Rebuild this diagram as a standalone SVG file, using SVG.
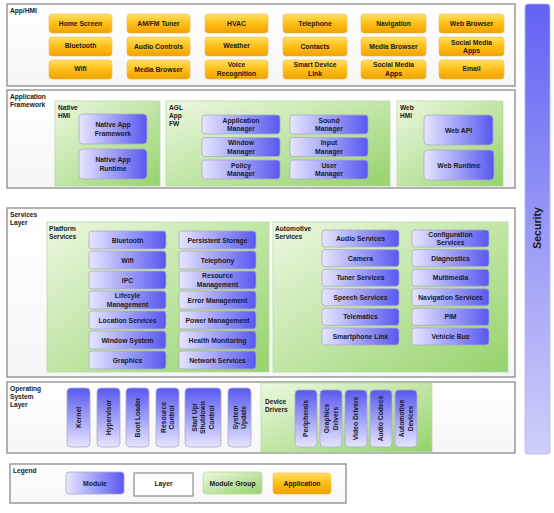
<svg xmlns="http://www.w3.org/2000/svg" width="554" height="513" viewBox="0 0 554 513">
<defs>
<linearGradient id="gMod" x1="0" y1="0" x2="1" y2="0"><stop offset="0" stop-color="#e6e6ff"/><stop offset="1" stop-color="#5858f0"/></linearGradient>
<linearGradient id="gModV" x1="0" y1="1" x2="0" y2="0"><stop offset="0" stop-color="#e6e6ff"/><stop offset="1" stop-color="#5858f0"/></linearGradient>
<linearGradient id="gApp" x1="0" y1="0" x2="0" y2="1"><stop offset="0" stop-color="#ffe066"/><stop offset="0.45" stop-color="#ffc21a"/><stop offset="1" stop-color="#f2a000"/></linearGradient>
<linearGradient id="gGrp" x1="0" y1="0" x2="1" y2="1"><stop offset="0" stop-color="#ecf8e0"/><stop offset="1" stop-color="#96d36c"/></linearGradient>
<linearGradient id="gLay" x1="0" y1="0" x2="0" y2="1"><stop offset="0" stop-color="#ffffff"/><stop offset="1" stop-color="#f6f6f6"/></linearGradient>
<linearGradient id="gSec" x1="0" y1="0" x2="0" y2="1"><stop offset="0" stop-color="#6262f4"/><stop offset="1" stop-color="#cfcff9"/></linearGradient>
<style>
.lay{fill:url(#gLay);stroke:#8a8a8a;stroke-width:1.3}
.grp{fill:url(#gGrp);stroke:#b6dca0;stroke-width:0.8}
.mod{fill:url(#gMod);stroke:#a9a9c8;stroke-width:0.8}
.modv{fill:url(#gModV);stroke:#a9a9c8;stroke-width:0.8}
.app{fill:url(#gApp);stroke:#f0b84a;stroke-width:0.6}
text{font-family:"Liberation Sans",Arial,sans-serif;font-weight:bold;font-size:6.8px;fill:#1a1a1a}
.c{text-anchor:middle}
.h{font-size:6.6px}
</style>
</defs>

<g id="security">
<rect x="525" y="4" width="25" height="450" rx="3" fill="url(#gSec)" stroke="#b8b8e8" stroke-width="0.8"/>
<text class="c" transform="translate(537,228) rotate(-90)" y="3.5" style="font-size:10.5px">Security</text>
</g>

<!-- App/HMI layer -->
<g id="layer-app">
<rect class="lay" x="7" y="4" width="508" height="82"/>
<text class="h" x="10" y="13">App/HMI</text>
</g>
<g id="apps">
<g id="app-home"><rect class="app" x="49" y="14" width="63" height="19" rx="3"/><text class="c" x="80.5" y="26">Home Screen</text></g>
<g id="app-amfm"><rect class="app" x="127" y="14" width="63" height="19" rx="3"/><text class="c" x="158.5" y="26">AM/FM Tuner</text></g>
<g id="app-hvac"><rect class="app" x="205" y="14" width="63" height="19" rx="3"/><text class="c" x="236.5" y="26">HVAC</text></g>
<g id="app-tel"><rect class="app" x="283" y="14" width="64" height="19" rx="3"/><text class="c" x="315" y="26">Telephone</text></g>
<g id="app-nav"><rect class="app" x="361" y="14" width="65" height="19" rx="3"/><text class="c" x="393.5" y="26">Navigation</text></g>
<g id="app-web"><rect class="app" x="439" y="14" width="65" height="19" rx="3"/><text class="c" x="471.5" y="26">Web Browser</text></g>

<g id="app-bt"><rect class="app" x="49" y="37" width="63" height="19" rx="3"/><text class="c" x="80.5" y="48">Bluetooth</text></g>
<g id="app-audio"><rect class="app" x="127" y="37" width="63" height="19" rx="3"/><text class="c" x="158.5" y="49">Audio Controls</text></g>
<g id="app-weather"><rect class="app" x="205" y="37" width="63" height="19" rx="3"/><text class="c" x="236.5" y="48">Weather</text></g>
<g id="app-contacts"><rect class="app" x="283" y="37" width="64" height="19" rx="3"/><text class="c" x="315" y="49">Contacts</text></g>
<g id="app-media1"><rect class="app" x="361" y="37" width="65" height="19" rx="3"/><text class="c" x="393.5" y="49">Media Browser</text></g>
<g id="app-social1"><rect class="app" x="439" y="37" width="65" height="19" rx="3"/><text class="c" x="471.5" y="44.5">Social Media</text><text class="c" x="471.5" y="53">Apps</text></g>

<g id="app-wifi"><rect class="app" x="49" y="60" width="63" height="19" rx="3"/><text class="c" x="80.5" y="71">Wifi</text></g>
<g id="app-media2"><rect class="app" x="127" y="60" width="63" height="19" rx="3"/><text class="c" x="158.5" y="72">Media Browser</text></g>
<g id="app-voice"><rect class="app" x="205" y="60" width="63" height="19" rx="3"/><text class="c" x="236.5" y="67">Voice</text><text class="c" x="236.5" y="76">Recognition</text></g>
<g id="app-sdl"><rect class="app" x="283" y="60" width="64" height="19" rx="3"/><text class="c" x="315" y="67">Smart Device</text><text class="c" x="315" y="76">Link</text></g>
<g id="app-social2"><rect class="app" x="361" y="60" width="65" height="19" rx="3"/><text class="c" x="393.5" y="67">Social Media</text><text class="c" x="393.5" y="76">Apps</text></g>
<g id="app-email"><rect class="app" x="439" y="60" width="65" height="19" rx="3"/><text class="c" x="471.5" y="71">Email</text></g>
</g>

<!-- Application Framework layer -->
<g id="layer-fw">
<rect class="lay" x="7" y="90" width="508" height="98"/>
<text class="h" x="10" y="99">Application</text><text class="h" x="10" y="107">Framework</text>
</g>
<g id="grp-native">
<rect class="grp" x="55" y="101" width="105" height="85"/>
<text class="h" x="58" y="110">Native</text><text class="h" x="58" y="118">HMI</text>
<g id="native-fw"><rect class="mod" x="79" y="114" width="68" height="30" rx="4"/><text class="c" x="113" y="127">Native App</text><text class="c" x="113" y="136">Framework</text></g>
<g id="native-rt"><rect class="mod" x="79" y="149" width="68" height="30" rx="4"/><text class="c" x="113" y="162">Native App</text><text class="c" x="113" y="171">Runtime</text></g>
</g>
<g id="grp-agl">
<rect class="grp" x="166" y="101" width="224" height="85"/>
<text class="h" x="169" y="110">AGL</text><text class="h" x="169" y="118">App</text><text class="h" x="169" y="126">FW</text>
<g id="m-appmgr"><rect class="mod" x="202" y="115" width="78" height="19" rx="3"/><text class="c" x="241" y="122.5">Application</text><text class="c" x="241" y="131">Manager</text></g>
<g id="m-winmgr"><rect class="mod" x="202" y="137.5" width="78" height="19" rx="3"/><text class="c" x="241" y="145">Window</text><text class="c" x="241" y="153.5">Manager</text></g>
<g id="m-polmgr"><rect class="mod" x="202" y="160" width="78" height="19" rx="3"/><text class="c" x="241" y="167.5">Policy</text><text class="c" x="241" y="176">Manager</text></g>
<g id="m-sndmgr"><rect class="mod" x="290" y="115" width="78" height="19" rx="3"/><text class="c" x="329" y="122.5">Sound</text><text class="c" x="329" y="131">Manager</text></g>
<g id="m-inpmgr"><rect class="mod" x="290" y="137.5" width="78" height="19" rx="3"/><text class="c" x="329" y="145">Input</text><text class="c" x="329" y="153.5">Manager</text></g>
<g id="m-usrmgr"><rect class="mod" x="290" y="160" width="78" height="19" rx="3"/><text class="c" x="329" y="167.5">User</text><text class="c" x="329" y="176">Manager</text></g>
</g>
<g id="grp-web">
<rect class="grp" x="397" y="101" width="106" height="85"/>
<text class="h" x="400" y="110">Web</text><text class="h" x="400" y="118">HMI</text>
<g id="m-webapi"><rect class="mod" x="424" y="115" width="69" height="30" rx="4"/><text class="c" x="458.5" y="132.5">Web API</text></g>
<g id="m-webrt"><rect class="mod" x="424" y="150" width="70" height="30" rx="4"/><text class="c" x="459" y="167.5">Web Runtime</text></g>
</g>

<!-- Services layer -->
<g id="layer-svc">
<rect class="lay" x="7" y="208" width="508" height="169"/>
<text class="h" x="10" y="217">Services</text><text class="h" x="10" y="225">Layer</text>
</g>
<g id="grp-platform">
<rect class="grp" x="47" y="222" width="222" height="150"/>
<text class="h" x="49" y="231">Platform</text><text class="h" x="49" y="239">Services</text>
<g id="p-bt"><rect class="mod" x="89" y="231" width="77" height="18" rx="3"/><text class="c" x="127.5" y="242.5">Bluetooth</text></g>
<g id="p-wifi"><rect class="mod" x="89" y="251" width="77" height="18" rx="3"/><text class="c" x="127.5" y="262.5">Wifi</text></g>
<g id="p-ipc"><rect class="mod" x="89" y="271" width="77" height="18" rx="3"/><text class="c" x="127.5" y="282.5">IPC</text></g>
<g id="p-life"><rect class="mod" x="89" y="291" width="77" height="18" rx="3"/><text class="c" x="127.5" y="297.5">Lifecyle</text><text class="c" x="127.5" y="306.5">Management</text></g>
<g id="p-loc"><rect class="mod" x="89" y="311" width="77" height="18" rx="3"/><text class="c" x="127.5" y="322.5">Location Services</text></g>
<g id="p-win"><rect class="mod" x="89" y="331" width="77" height="18" rx="3"/><text class="c" x="127.5" y="342.5">Window System</text></g>
<g id="p-gfx"><rect class="mod" x="89" y="351" width="77" height="18" rx="3"/><text class="c" x="127.5" y="362.5">Graphics</text></g>
<g id="p-pers"><rect class="mod" x="179" y="231" width="77" height="18" rx="3"/><text class="c" x="217.5" y="242.5">Persistent Storage</text></g>
<g id="p-tel"><rect class="mod" x="179" y="251" width="77" height="18" rx="3"/><text class="c" x="217.5" y="262.5">Telephony</text></g>
<g id="p-res"><rect class="mod" x="179" y="271" width="77" height="18" rx="3"/><text class="c" x="217.5" y="277.5">Resource</text><text class="c" x="217.5" y="286.5">Management</text></g>
<g id="p-err"><rect class="mod" x="179" y="291" width="77" height="18" rx="3"/><text class="c" x="217.5" y="302.5">Error Management</text></g>
<g id="p-pow"><rect class="mod" x="179" y="311" width="77" height="18" rx="3"/><text class="c" x="217.5" y="322.5">Power Management</text></g>
<g id="p-health"><rect class="mod" x="179" y="331" width="77" height="18" rx="3"/><text class="c" x="217.5" y="342.5">Health Monitoring</text></g>
<g id="p-net"><rect class="mod" x="179" y="351" width="77" height="18" rx="3"/><text class="c" x="217.5" y="362.5">Network Services</text></g>
</g>
<g id="grp-auto">
<rect class="grp" x="273" y="222" width="235" height="150"/>
<text class="h" x="275" y="231">Automotive</text><text class="h" x="275" y="239">Services</text>
<g id="a-audio"><rect class="mod" x="322" y="230" width="77" height="17" rx="3"/><text class="c" x="360.5" y="241">Audio Services</text></g>
<g id="a-cam"><rect class="mod" x="322" y="249.6" width="77" height="17" rx="3"/><text class="c" x="360.5" y="260.6">Camera</text></g>
<g id="a-tuner"><rect class="mod" x="322" y="269.2" width="77" height="17" rx="3"/><text class="c" x="360.5" y="280.2">Tuner Services</text></g>
<g id="a-speech"><rect class="mod" x="322" y="288.8" width="77" height="17" rx="3"/><text class="c" x="360.5" y="299.8">Speech Services</text></g>
<g id="a-telem"><rect class="mod" x="322" y="308.4" width="77" height="17" rx="3"/><text class="c" x="360.5" y="319.4">Telematics</text></g>
<g id="a-smart"><rect class="mod" x="322" y="328" width="77" height="17" rx="3"/><text class="c" x="360.5" y="339">Smartphone Link</text></g>
<g id="a-config"><rect class="mod" x="412" y="230" width="77" height="17" rx="3"/><text class="c" x="450.5" y="236.5">Configuration</text><text class="c" x="450.5" y="245">Services</text></g>
<g id="a-diag"><rect class="mod" x="412" y="249.6" width="77" height="17" rx="3"/><text class="c" x="450.5" y="260.6">Diagnostics</text></g>
<g id="a-mm"><rect class="mod" x="412" y="269.2" width="77" height="17" rx="3"/><text class="c" x="450.5" y="280.2">Multimedia</text></g>
<g id="a-navs"><rect class="mod" x="412" y="288.8" width="77" height="17" rx="3"/><text class="c" x="450.5" y="299.8">Navigation Services</text></g>
<g id="a-pim"><rect class="mod" x="412" y="308.4" width="77" height="17" rx="3"/><text class="c" x="450.5" y="319.4">PIM</text></g>
<g id="a-vbus"><rect class="mod" x="412" y="328" width="77" height="17" rx="3"/><text class="c" x="450.5" y="339">Vehicle Bus</text></g>
</g>

<!-- OS layer -->
<g id="layer-os">
<rect class="lay" x="7" y="382" width="508" height="71"/>
<text class="h" x="10" y="391">Operating</text><text class="h" x="10" y="399">System</text><text class="h" x="10" y="407">Layer</text>
</g>
<g id="os-modules">
<g id="os-kernel"><rect class="modv" x="67" y="388" width="23" height="59" rx="4"/><text class="c" transform="translate(78.5,417.5) rotate(-90)" y="2.4">Kernel</text></g>
<g id="os-hyp"><rect class="modv" x="97" y="388" width="23" height="59" rx="4"/><text class="c" transform="translate(108.5,417.5) rotate(-90)" y="2.4">Hypervisor</text></g>
<g id="os-boot"><rect class="modv" x="126" y="388" width="23" height="59" rx="4"/><text class="c" transform="translate(137.5,417.5) rotate(-90)" y="2.4">Boot Loader</text></g>
<g id="os-res"><rect class="modv" x="156" y="388" width="23" height="59" rx="4"/><text class="c" transform="translate(167.5,417.5) rotate(-90)"><tspan x="0" y="-1.8">Resource</tspan><tspan x="0" y="6.6">Control</tspan></text></g>
<g id="os-start"><rect class="modv" x="185" y="388" width="36" height="59" rx="4"/><text class="c" transform="translate(203,417.5) rotate(-90)"><tspan x="0" y="-6">Start Up/</tspan><tspan x="0" y="2.4">Shutdown</tspan><tspan x="0" y="10.8">Control</tspan></text></g>
<g id="os-upd"><rect class="modv" x="228" y="388" width="23" height="59" rx="4"/><text class="c" transform="translate(239.5,417.5) rotate(-90)"><tspan x="0" y="-1.8">System</tspan><tspan x="0" y="6.6">Update</tspan></text></g>
</g>
<g id="grp-drivers">
<rect class="grp" x="261" y="383" width="171" height="69"/>
<text class="h" x="265" y="404">Device</text><text class="h" x="265" y="412">Drivers</text>
<g id="d-per"><rect class="modv" x="295" y="390" width="22" height="57" rx="4"/><text class="c" transform="translate(306,418.5) rotate(-90)" y="2.4">Peripherals</text></g>
<g id="d-gfx"><rect class="modv" x="320" y="390" width="22" height="57" rx="4"/><text class="c" transform="translate(331,418.5) rotate(-90)"><tspan x="0" y="-1.8">Graphics</tspan><tspan x="0" y="6.6">Drivers</tspan></text></g>
<g id="d-vid"><rect class="modv" x="345" y="390" width="22" height="57" rx="4"/><text class="c" transform="translate(356,418.5) rotate(-90)" y="2.4">Video Drivers</text></g>
<g id="d-aud"><rect class="modv" x="370" y="390" width="22" height="57" rx="4"/><text class="c" transform="translate(381,418.5) rotate(-90)" y="2.4">Audio Codecs</text></g>
<g id="d-auto"><rect class="modv" x="395" y="390" width="22" height="57" rx="4"/><text class="c" transform="translate(406,418.5) rotate(-90)"><tspan x="0" y="-1.8">Automotive</tspan><tspan x="0" y="6.6">Devices</tspan></text></g>
</g>

<!-- Legend -->
<g id="legend">
<rect class="lay" x="10" y="464" width="336" height="39"/>
<text class="h" x="13" y="473">Legend</text>
<g id="lg-module"><rect class="mod" x="66" y="472" width="58" height="22" rx="3"/><text class="c" x="95" y="485.5">Module</text></g>
<g id="lg-layer"><rect x="134" y="473" width="59" height="23" fill="#fff" stroke="#777" stroke-width="1"/><text class="c" x="163.5" y="485.5">Layer</text></g>
<g id="lg-group"><rect class="grp" x="203" y="472" width="59" height="22" rx="3"/><text class="c" x="232.5" y="485.5">Module Group</text></g>
<g id="lg-app"><rect class="app" x="273" y="473" width="58" height="21" rx="3"/><text class="c" x="302" y="485.5">Application</text></g>
</g>
<g id="connectors"/>
</svg>
